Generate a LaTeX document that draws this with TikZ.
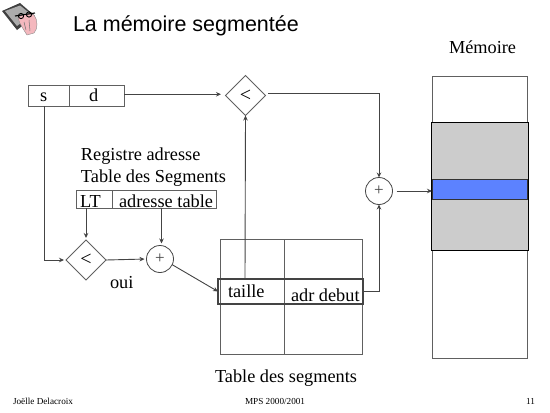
\documentclass[tikz,border=0pt]{standalone}
\usepackage{fontspec}
\setmainfont{Liberation Serif}
\newfontfamily\titlefont{Liberation Sans}
\usetikzlibrary{shapes.geometric,arrows.meta}
\definecolor{lineC}{HTML}{444444}
\definecolor{boxC}{HTML}{606060}
\definecolor{memGrey}{HTML}{CCCCCC}
\definecolor{memBlue}{HTML}{5C82FF}
\definecolor{handC}{HTML}{F4B8BE}
\tikzset{
  every node/.style={inner sep=0pt,outer sep=0pt},
  rectbox/.style={draw=boxC,line width=.9pt,anchor=north west},
  cmp/.style={shape=diamond,draw=boxC,line width=.9pt,minimum width=40pt,minimum height=40pt,font=\fontsize{20}{20}\selectfont},
  adder/.style={circle,draw=lineC,line width=.8pt,minimum size=27pt,text=lineC,font=\fontsize{17}{17}\selectfont},
  arr/.style={draw=lineC,line width=.9pt,-{Stealth[length=5pt,width=4.5pt]}},
  wire/.style={draw=boxC,line width=.9pt},
  lab/.style={font=\fontsize{18.3}{18.3}\selectfont,anchor=base west,text=black},
  foot/.style={font=\fontsize{9.2}{9.2}\selectfont,anchor=base west,text=black}
}
\begin{document}
\begin{tikzpicture}[x=1pt,y=-1pt]
\useasboundingbox[fill=white] (0,0) rectangle (550,413);
% icon
\fill[black!75,line join=round] (2,11) -- (20,3) -- (35,16) -- (17,30) -- cycle;
\fill[gray!65] (5,11) -- (20,5.5) -- (32,15) -- (17,26) -- cycle;
\fill[handC,draw=black!45,line width=.4pt] (18,18) .. controls (20,14) and (31,13) .. (34,15) .. controls (38,20) and (38,29) .. (34,33) -- (27,35) .. controls (24,30) and (20,25) .. (18,18) -- cycle;
\draw[black,line width=1.1pt] (15,16) -- (35,13);
\draw[black,line width=.9pt] (21,16) circle (2.6) (29,14.5) circle (2.6);
\draw[black!55,line width=.5pt] (24,22) -- (26,30) (29,20) -- (30,31);
% title
\node[anchor=base west,font=\titlefont\fontsize{21.5}{21.5}\selectfont] (title) at (73,31) {La mémoire segmentée};
\node[lab] (memlabel) at (449,53) {Mémoire};
% s d
\node[rectbox,minimum width=41pt,minimum height=20.5pt] (sbox) at (28,85.5) {};
\node[rectbox,minimum width=55pt,minimum height=20.5pt] (dbox) at (69,85.5) {};
\node[lab] (stext) at (40,101) {s};
\node[lab] (dtext) at (89,101) {d};
% registre
\node[lab] (reg1) at (81,160) {Registre adresse};
\node[lab] (reg2) at (81,182) {Table des Segments};
\node[rectbox,minimum width=36pt,minimum height=18pt] (ltbox) at (76,190) {};
\node[rectbox,minimum width=104pt,minimum height=18pt] (adrbox) at (112,190) {};
\node[lab] (lttext) at (80,207) {LT};
\node[lab] (adrtext) at (119,207) {adresse table};
% comparators and adders
\node[cmp] (cmpA) at (245.5,95.5) {\raisebox{-3pt}{<}};
\node[cmp] (cmpB) at (86,260) {\raisebox{-3pt}{<}};
\node[adder] (addA) at (160,259) {+};
\node[adder] (addB) at (379,191) {+};
\node[lab] (oui) at (110,288) {oui};
% table
\node[rectbox,minimum width=142pt,minimum height=115pt] (table) at (220,239) {};
\draw[wire] (284,239) -- (284,354);
\node[rectbox,draw=lineC,line width=1.1pt,minimum width=145pt,minimum height=25pt] (row) at (218,279) {};
\node[lab] (taille) at (228,297) {taille};
\node[lab] (adrdeb) at (291,301) {adr debut};
\node[lab] (tablabel) at (215,382) {Table des segments};
% memory
\node[rectbox,minimum width=95pt,minimum height=282pt] (mem) at (432,76) {};
\node[rectbox,fill=memGrey,draw=black,minimum width=96.5pt,minimum height=128pt] (seg) at (431.5,122) {};
\node[rectbox,fill=memBlue,draw=black!80,minimum width=95pt,minimum height=20pt] (cell) at (432,179) {};
% connectors
\coordinate (sfoot) at (44,106);
\coordinate (ltfoot) at (86,208);
\coordinate (adrfoot) at (161.5,208);
\coordinate (taillefoot) at (245,279);
\coordinate (cmpAout) at (268,93);
\draw[arr] (dbox.east) ++(0,-1.5) -- ++(97,0);
\draw[arr] (cmpAout) -| (addB.north);
\draw[arr] (row.east) -| (addB.south);
\draw[arr,shorten <=4pt] (addB.east) -- (mem.west |- addB);
\draw[arr,shorten >=2pt] (sfoot) |- (cmpB.west);
\draw[arr,shorten >=2pt] (ltfoot) -- (cmpB.north);
\draw[arr,shorten >=2pt] (adrfoot) -- (adrfoot |- addA.north);
\draw[arr,shorten >=2pt] (cmpB.east) -- (addA.west);
\draw[arr] (addA.-25) -- (row.west);
\draw[arr] (taillefoot) -- (cmpA.south);
% footer
\node[foot] (f1) at (13,404) {Joëlle Delacroix};
\node[foot] (f2) at (245,404) {MPS 2000/2001};
\node[foot] (f3) at (526,404) {11};
\end{tikzpicture}
\end{document}
